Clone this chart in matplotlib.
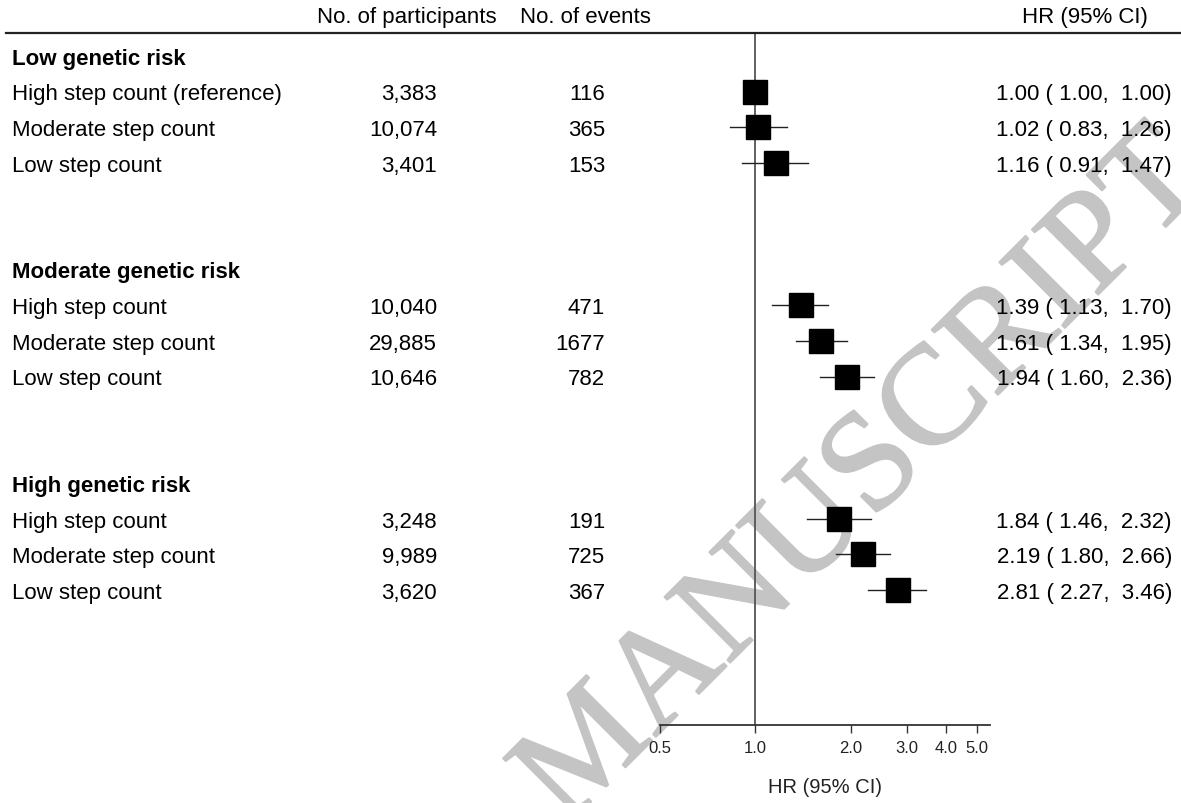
import matplotlib
matplotlib.use("Agg")
import matplotlib.pyplot as plt
import matplotlib.transforms as mtransforms
import matplotlib.patheffects as pe

plt.rcParams['font.family'] = ['Liberation Sans', 'DejaVu Sans']

groups = ["Low genetic risk", "Moderate genetic risk", "High genetic risk"]
labels = [
    ["High step count (reference)", "Moderate step count", "Low step count"],
    ["High step count", "Moderate step count", "Low step count"],
    ["High step count", "Moderate step count", "Low step count"],
]
participants = [3383, 10074, 3401, 10040, 29885, 10646, 3248, 9989, 3620]
events = [116, 365, 153, 471, 1677, 782, 191, 725, 367]
hr = [1.00, 1.02, 1.16, 1.39, 1.61, 1.94, 1.84, 2.19, 2.81]
lo = [1.00, 0.83, 0.91, 1.13, 1.34, 1.60, 1.46, 1.80, 2.27]
hi = [1.00, 1.26, 1.47, 1.70, 1.95, 2.36, 2.32, 2.66, 3.46]
xticks = [0.5, 1.0, 2.0, 3.0, 4.0, 5.0]

W, H = 1181, 804
fig = plt.figure(figsize=(W / 100, H / 100), dpi=100)

# forest panel: x from 0.5 to 5.5 (log), rows top->bottom
ax = fig.add_axes([660 / W, (H - 726) / H, 330 / W, 692 / H])
ax.set_facecolor('none')
ax.set_xscale('log')
ax.set_xlim(0.5, 5.5)
ax.set_ylim(18.79, -0.65)

tr = mtransforms.blended_transform_factory(fig.transFigure, ax.transData)
fs = 16
dy = 0.06  # nudge text onto the box centres

# header
hy = -1.1
ax.text(407 / W, hy, "No. of participants", transform=tr, ha='center', va='center', fontsize=fs, clip_on=False)
ax.text(585 / W, hy, "No. of events", transform=tr, ha='center', va='center', fontsize=fs, clip_on=False)
ax.text(1085 / W, hy, "HR (95% CI)", transform=tr, ha='center', va='center', fontsize=fs, clip_on=False)
trl = mtransforms.blended_transform_factory(fig.transFigure, ax.transAxes)
ax.plot([0.005, 1.0], [1, 1], transform=trl, color='#222222', lw=1.6, clip_on=False)

ax.axvline(1.0, color='#555555', lw=1.3, zorder=1)

k = 0
for g, name in enumerate(groups):
    top = g * 6
    ax.text(12 / W, top + dy, name, transform=tr, ha='left', va='center', fontsize=fs,
            fontweight='bold', clip_on=False)
    for j, lab in enumerate(labels[g]):
        y = top + 1 + j
        ax.text(12 / W, y + dy, lab, transform=tr, ha='left', va='center', fontsize=fs, clip_on=False)
        ax.text(437 / W, y + dy, f"{participants[k]:,}", transform=tr, ha='right', va='center',
                fontsize=fs, clip_on=False)
        ax.text(605 / W, y + dy, f"{events[k]}", transform=tr, ha='right', va='center',
                fontsize=fs, clip_on=False)
        ax.text(1172 / W, y + dy, f"{hr[k]:.2f} ({lo[k]:5.2f}, {hi[k]:5.2f})", transform=tr,
                ha='right', va='center', fontsize=fs, clip_on=False)
        ax.plot([lo[k], hi[k]], [y, y], color='#222222', lw=1.0, zorder=2)
        ax.plot(hr[k], y, marker='s', ms=17.3, color='black', zorder=3)
        k += 1

for s in ['top', 'left', 'right']:
    ax.spines[s].set_visible(False)
ax.spines['bottom'].set_color('#333333')
ax.spines['bottom'].set_linewidth(1.3)
ax.set_yticks([])
ax.set_xticks(xticks)
ax.set_xticklabels([f"{t:.1f}" for t in xticks])
ax.minorticks_off()
ax.tick_params(axis='x', direction='out', length=6, width=1.0, color='#333333',
               labelsize=12, pad=5, labelcolor='#222222')
ax.set_xlabel("HR (95% CI)", fontsize=14.5, labelpad=16, color='#222222')

# watermark
fig.text(0.732, 0.402, "MANUSCRIPT", rotation=45, fontsize=102, color='#c4c4c4',
         family='Liberation Serif', ha='center', va='center', zorder=-1,
         rotation_mode='anchor',
         path_effects=[pe.withStroke(linewidth=1.5, foreground='#c4c4c4')])

fig.savefig("out.png", dpi=100)
